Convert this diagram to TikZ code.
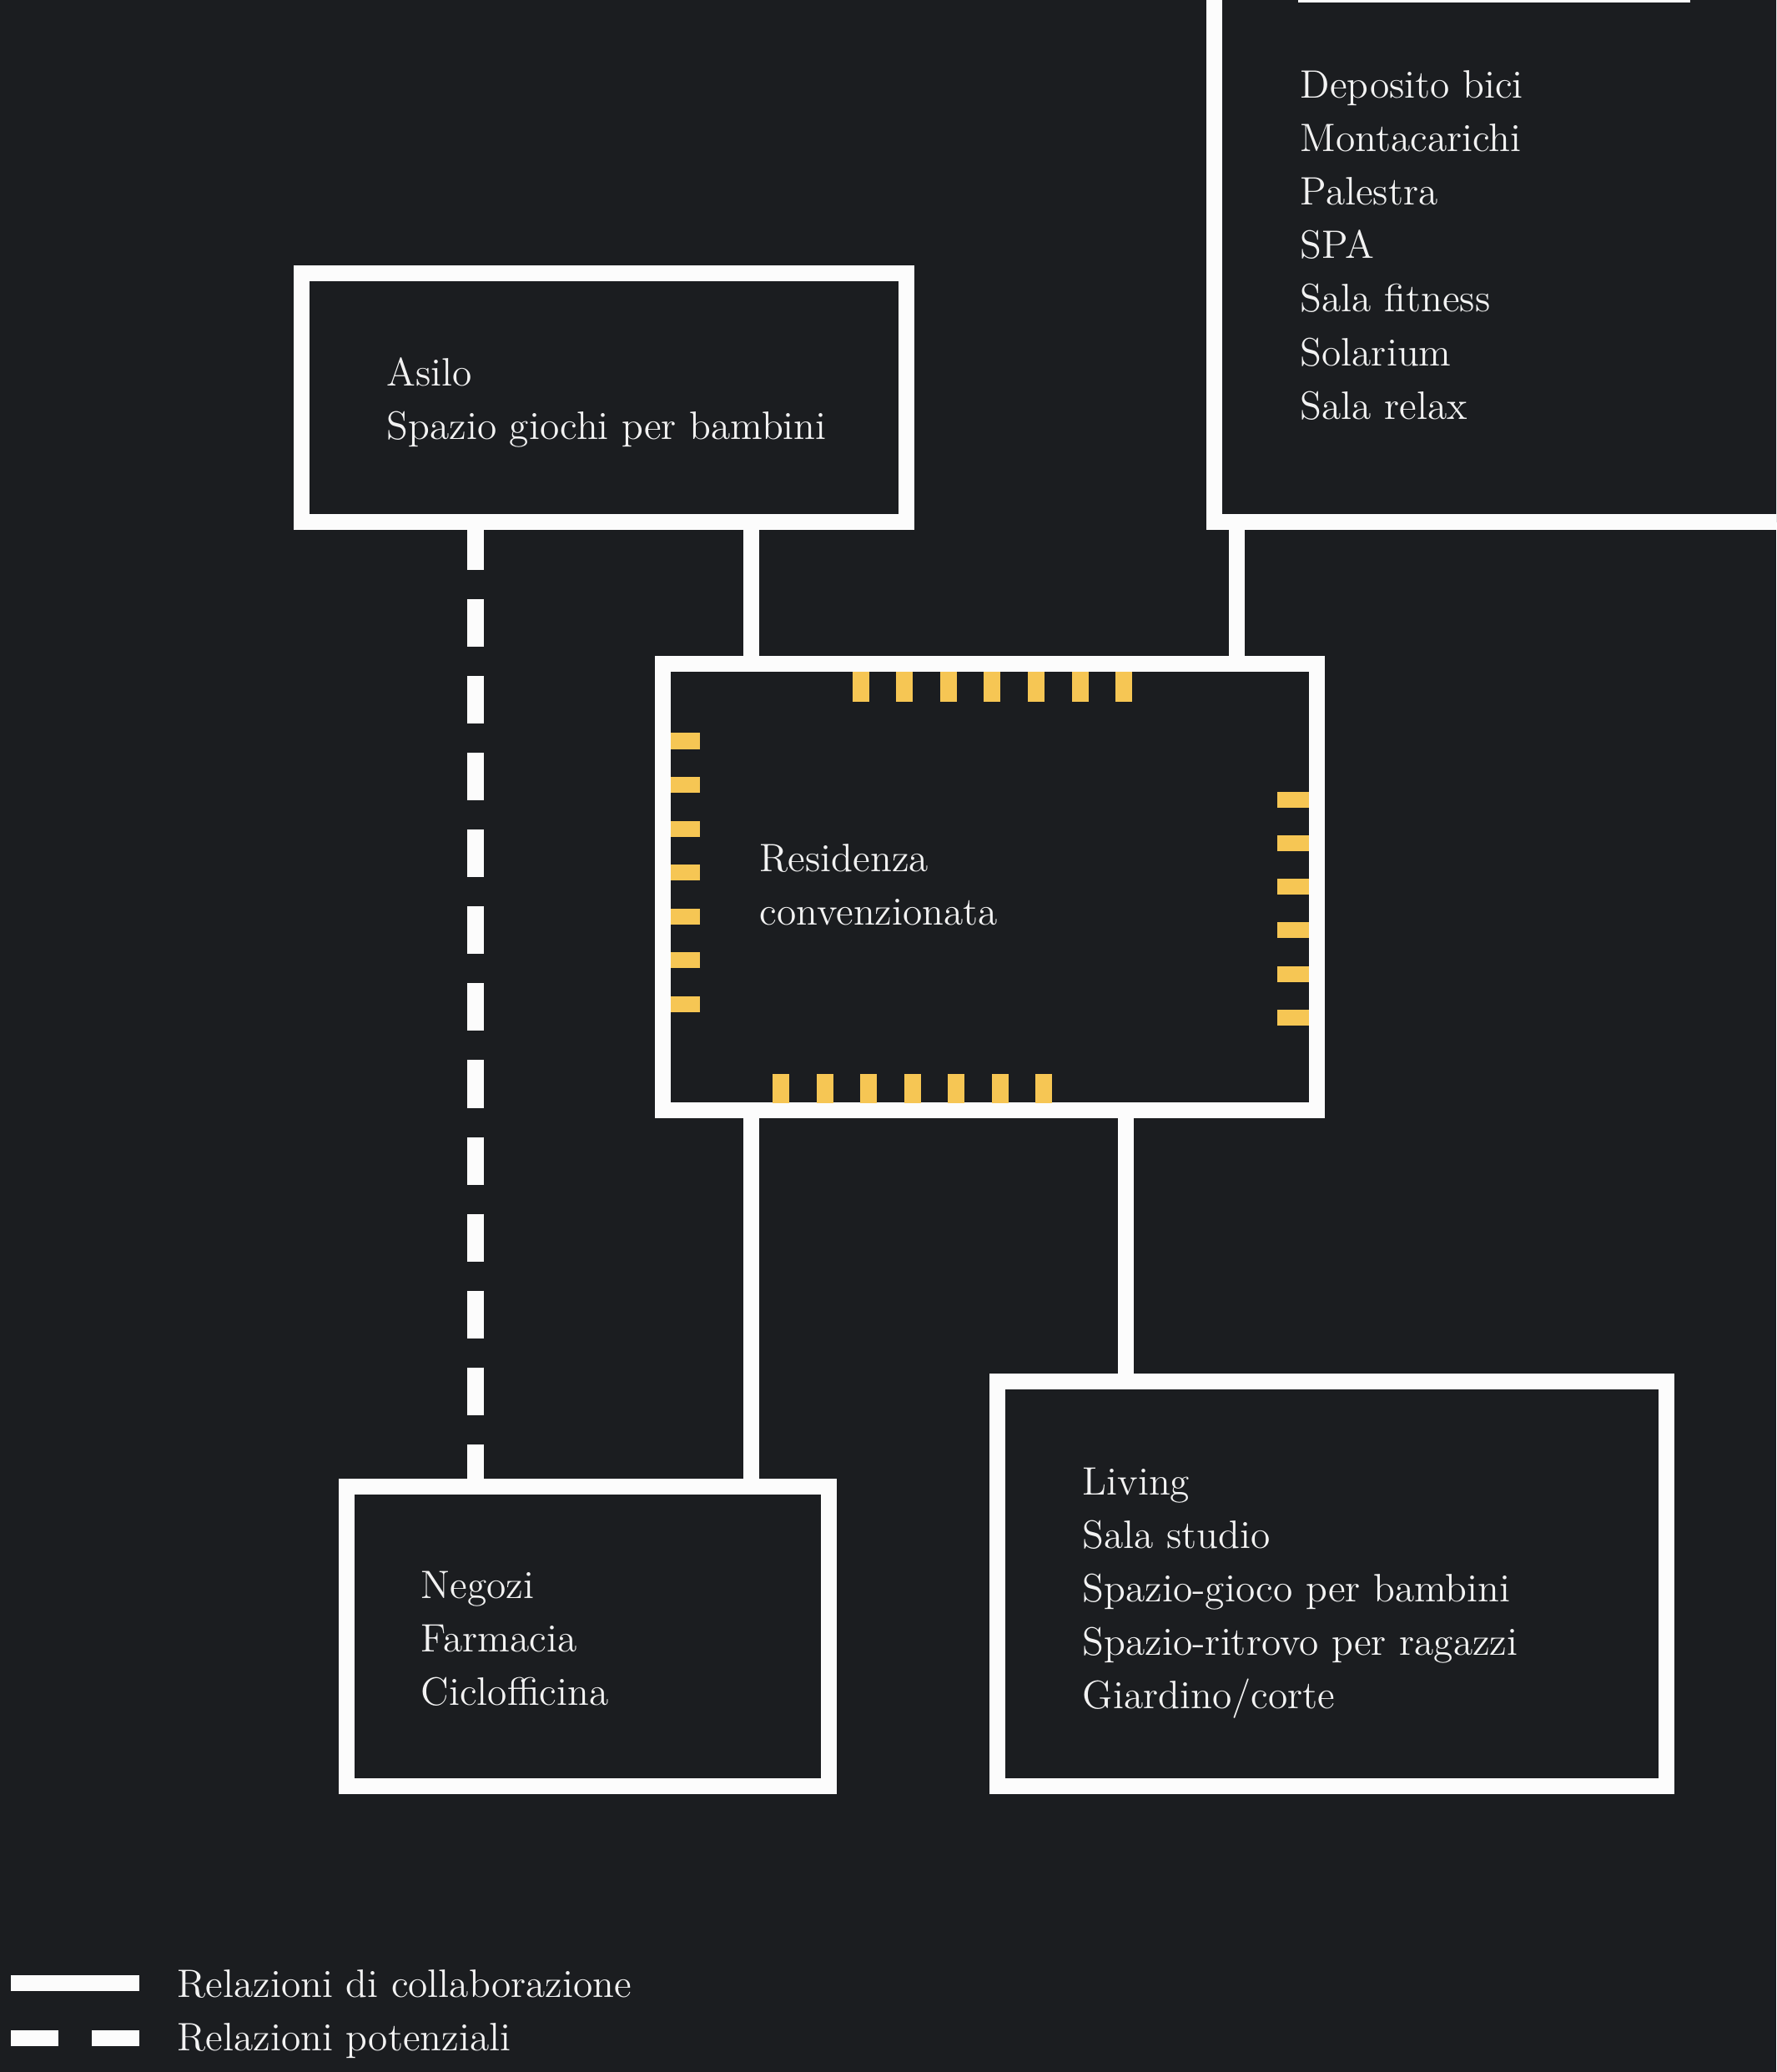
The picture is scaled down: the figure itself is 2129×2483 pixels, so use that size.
\documentclass[tikz,border=0pt]{standalone}
\usepackage{xcolor}
\definecolor{bg}{RGB}{27,29,32}
\definecolor{ln}{RGB}{252,252,252}
\definecolor{tk}{RGB}{246,198,84}
\definecolor{tx}{RGB}{242,242,242}
\begin{document}
\begin{tikzpicture}[x=0.01cm,y=-0.01cm,
  box/.style={draw=ln, fill=bg, line width=5.41pt, inner sep=0pt},
  rel/.style={draw=ln, line width=5.41pt},
  pot/.style={rel, dash pattern=on 0.57cm off 0.35cm, dash phase=0.09cm},
  lbl/.style={text=tx, inner sep=0pt, anchor=base west, font=\fontsize{13.5pt}{18.2pt}\selectfont},
  tickmark/.style={fill=tk}]
\useasboundingbox (0,0) rectangle (2129,2483);
\fill[bg] (0,0) rectangle (2129,2483);
\clip (0,0) rectangle (2129,2483);

% boxes
\node[box, minimum width=7.25cm, minimum height=2.98cm] (asilo) at (724,476.5) {};
\node[box, minimum width=7.945cm, minimum height=7.255cm] (svc) at (1852.75,262.75) {};
\node[box, minimum width=7.84cm, minimum height=5.35cm] (res) at (1186.5,1063) {};
\node[box, minimum width=5.78cm, minimum height=3.59cm] (neg) at (704.5,1961) {};
\node[box, minimum width=8.02cm, minimum height=4.85cm] (liv) at (1596.5,1898) {};

% connectors
\coordinate (xa) at (900,0);
\coordinate (xb) at (1482,0);
\coordinate (xc) at (570,0);
\coordinate (xd) at (1349,0);
\draw[rel] (asilo.south -| xa) -- (res.north -| xa);
\draw[rel] (svc.south -| xb) -- (res.north -| xb);
\draw[pot] (asilo.south -| xc) -- (neg.north -| xc);
\draw[rel] (res.south -| xa) -- (neg.north -| xa);
\draw[rel] (res.south -| xd) -- (liv.north -| xd);

% ticks on the central box
\foreach \i in {0,...,6} \fill[tickmark] ({1021.5+52.6*\i},805) rectangle ++(20,36);
\foreach \i in {0,...,6} \fill[tickmark] ({926+52.5*\i},1287) rectangle ++(20,35);
\foreach \i in {0,...,6} \fill[tickmark] (804,{878.5+52.5*\i}) rectangle ++(35,19);
\foreach \i in {0,...,5} \fill[tickmark] (1531,{948.5+52.3*\i}) rectangle ++(38,19);

% top underline of the cut-off heading
\coordinate (ula) at (1556,1);
\coordinate (ulb) at (2026,1);
\draw[ln, line width=0.9pt] (ula) -- (ulb);

% texts
\node[lbl] (asilo-t) at (463,463) {\begin{tabular}[t]{@{}l@{}}Asilo\\Spazio giochi per bambini\end{tabular}};
\node[lbl] (svc-t) at (1558,118) {\begin{tabular}[t]{@{}l@{}}Deposito bici\\Montacarichi\\Palestra\\SPA\\Sala fitness\\Solarium\\Sala relax\end{tabular}};
\node[lbl] (res-t) at (910,1044) {\begin{tabular}[t]{@{}l@{}}Residenza\\convenzionata\end{tabular}};
\node[lbl] (neg-t) at (504,1915) {\begin{tabular}[t]{@{}l@{}}Negozi\\Farmacia\\Ciclofficina\end{tabular}};
\node[lbl] (liv-t) at (1297,1791) {\begin{tabular}[t]{@{}l@{}}Living\\Sala studio\\Spazio-gioco per bambini\\Spazio-ritrovo per ragazzi\\Giardino/corte\end{tabular}};

% legend
\coordinate (l1a) at (13,2376.5);
\coordinate (l1b) at (167,2376.5);
\coordinate (l2a) at (13,2442);
\coordinate (l2b) at (70,2442);
\coordinate (l2c) at (110,2442);
\coordinate (l2d) at (167,2442);
\draw[rel] (l1a) -- (l1b);
\draw[rel] (l2a) -- (l2b);
\draw[rel] (l2c) -- (l2d);
\node[lbl] (leg1) at (212,2393) {Relazioni di collaborazione};
\node[lbl] (leg2) at (212,2457) {Relazioni potenziali};
\end{tikzpicture}
\end{document}
